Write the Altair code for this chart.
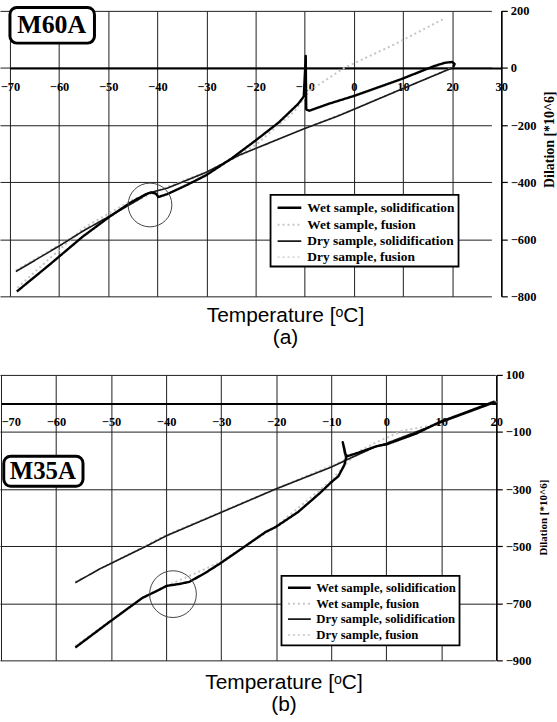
import altair as alt
import pandas as pd

SERIES = ["Wet sample, solidification", "Wet sample, fusion",
          "Dry sample, solidification", "Dry sample, fusion"]
SERIES_COLORS = ["#000000", "#c6c6c6", "#1a1a1a", "#c6c6c6"]
SERIES_WIDTHS = [2.4, 1.3, 1.0, 1.3]
SERIES_DASHES = [[1, 0], [2, 3], [1, 0], [2, 3]]

SERIF = "Liberation Serif"
SANS = "Liberation Sans"

# ---------------- (a) M60A ----------------
a_wet_sol_T = [-68.6, -62.0, -55.2, -49.8, -45.3, -42.3, -41.3, -40.3, -39.8, -38.0,
               -34.0, -30.1, -24.9, -20.0, -15.3, -11.3, -10.2, -9.8, -9.7, -9.1,
               -7.5, -5.2, 0.2, 9.5, 16.4, 18.5, 20.0, 20.5, 20.2]
a_wet_sol_D = [-783, -690, -591, -522, -470, -442, -436, -440, -452, -442,
               -410, -376, -317, -254, -191, -125, -100, 42, -145, -150,
               -140, -126, -97, -40, 7, 18, 21, 14, 3]

a_wet_fus_T = [-68.5, -55.0, -45.0, -40.0, -30.0, -20.0, -12.0, -9.0, -2.0, 8.3, 18.5]
a_wet_fus_D = [-770, -560, -462, -430, -370, -270, -150, -80, 0, 83, 174]

a_dry_sol_T = [-68.8, -60.0, -55.0, -50.0, -45.0, -41.7, -38.0, -30.0, -23.4, -17.4,
               -10.0, -3.2, 0.0, 10.0, 20.0]
a_dry_sol_D = [-713, -624, -570, -522, -473, -438, -421, -365, -306, -264,
               -212, -168, -145, -72, 0]

a_dry_fus_T = [-68.8, -50.0, -40.0, -30.0, -17.4, 0.0, 20.0]
a_dry_fus_D = [-708, -518, -430, -362, -262, -143, 2]

a_circle_T, a_circle_D = [-41.5], [-480]

# ---------------- (b) M35A ----------------
b_wet_sol_T = [-56.5, -50.2, -44.3, -41.5, -39.9, -37.5, -35.8, -33.0, -30.3, -26.0,
               -21.9, -20.1, -16.0, -12.0, -10.0, -8.7, -7.6, -7.3, -7.6, -7.9,
               -7.5, -7.1, -5.0, -1.8, 0.1, 5.5, 9.6, 14.5, 19.7]
b_wet_sol_D = [-855, -764, -681, -655, -639, -632, -625, -595, -562, -505,
               -450, -433, -380, -313, -276, -255, -215, -190, -160, -136,
               -175, -185, -172, -150, -143, -105, -66, -31, 7]

b_wet_fus_T = [-56.5, -45.0, -40.0, -30.0, -20.0, -10.0, -7.0, -5.0, -2.0, 3.0, 8.0, 14.0, 20.0]
b_wet_fus_D = [-850, -690, -640, -555, -430, -270, -205, -168, -138, -95, -78, -35, 7]

b_dry_sol_T = [-56.5, -52.0, -43.5, -40.0, -29.8, -20.1, -10.0, -6.9, -1.8, 0.0, 10.0, 20.0]
b_dry_sol_D = [-628, -579, -499, -464, -380, -300, -223, -195, -150, -140, -66, 5]

b_dry_fus_T = [-56.5, -40.0, -20.0, -6.9, 0.0, 20.0]
b_dry_fus_D = [-624, -460, -297, -192, -138, 6]

b_circle_T, b_circle_D = [-38.75], [-668]


def long_frame(parts):
    rows = []
    for name, ts, ds in parts:
        for i, (t, d) in enumerate(zip(ts, ds)):
            rows.append({"series": name, "T": t, "D": d, "idx": i})
    return pd.DataFrame(rows)


def panel(parts, circle, box, tag, x_dom, x_rng, x_vals, y_dom, y_vals, width,
          height, xlab_pad, label_align, y_title_size, y_title_y, legend_kw,
          title_lines, title_dx, title_offset):
    df = long_frame(parts)
    zero_px = height * y_dom[1] / (y_dom[1] - y_dom[0])

    xs = alt.Scale(domain=x_dom, range=x_rng, nice=False, zero=False)
    ys = alt.Scale(domain=y_dom, nice=False, zero=False)
    xa = alt.Axis(values=x_vals, grid=True, gridColor="#1e1e1e", gridWidth=1,
                  domain=True, domainColor="#000", domainWidth=2, ticks=False,
                  labelFont=SERIF, labelFontWeight="bold", labelFontSize=12.5,
                  labelColor="#000", labelPadding=xlab_pad, labelAlign=label_align,
                  offset=zero_px - height, title=None, format="d")
    ya = alt.Axis(orient="right", values=y_vals, grid=True, gridColor="#1e1e1e",
                  gridWidth=1, domain=True, domainColor="#000", domainWidth=1.5,
                  ticks=True, tickColor="#000", tickSize=6, tickWidth=1.2,
                  labelFont=SERIF, labelFontWeight="bold", labelFontSize=12.5,
                  labelColor="#000", labelPadding=3, format="d",
                  title="Dilation [*10^6]", titleFont=SERIF, titleFontWeight="bold",
                  titleFontSize=y_title_size, titleColor="#000", titleAngle=270,
                  titleBaseline="top", titlePadding=7, titleY=y_title_y)

    leg = alt.Legend(orient="none", title=None, fillColor="white",
                     strokeColor="#000", labelFont=SERIF, labelFontWeight="bold",
                     labelColor="#000", **legend_kw)

    lines = alt.Chart(df).mark_line(strokeCap="butt", strokeJoin="round").encode(
        x=alt.X("T:Q", scale=xs, axis=xa),
        y=alt.Y("D:Q", scale=ys, axis=ya),
        order="idx:Q",
        color=alt.Color("series:N", scale=alt.Scale(domain=SERIES, range=SERIES_COLORS), legend=leg),
        strokeWidth=alt.StrokeWidth("series:N", scale=alt.Scale(domain=SERIES, range=SERIES_WIDTHS), legend=leg),
        strokeDash=alt.StrokeDash("series:N", scale=alt.Scale(domain=SERIES, range=SERIES_DASHES), legend=leg),
    )

    ring = alt.Chart(pd.DataFrame({"T": circle[0], "D": circle[1]})).mark_point(
        shape="circle", filled=False, size=circle[2], stroke="#444", strokeWidth=1,
        opacity=1
    ).encode(x=alt.X("T:Q", scale=xs, axis=xa), y=alt.Y("D:Q", scale=ys, axis=ya))

    bx = pd.DataFrame({"T": [box[0]], "T2": [box[1]], "D": [box[2]], "D2": [box[3]]})
    frame = alt.Chart(bx).mark_rect(fill="white", stroke="#000", strokeWidth=3,
                                    cornerRadius=7).encode(
        x=alt.X("T:Q", scale=xs, axis=xa), x2="T2:Q",
        y=alt.Y("D:Q", scale=ys, axis=ya), y2="D2:Q")
    lbl = alt.Chart(pd.DataFrame({"T": [box[4]], "D": [box[5]], "tag": [tag]})).mark_text(
        font=SERIF, fontWeight="bold", fontSize=box[6], color="#000",
        baseline="middle", align="center"
    ).encode(x=alt.X("T:Q", scale=xs, axis=xa), y=alt.Y("D:Q", scale=ys, axis=ya),
             text="tag:N")

    return alt.layer(lines, ring, frame, lbl).properties(
        width=width, height=height,
        title=alt.TitleParams(title_lines, orient="bottom", anchor="middle",
                              frame="group", dx=title_dx, offset=title_offset,
                              font=SANS, fontSize=21, fontWeight="normal",
                              lineHeight=22, color="#000"),
    )


top = panel(
    parts=[(SERIES[1], a_wet_fus_T, a_wet_fus_D), (SERIES[3], a_dry_fus_T, a_dry_fus_D),
           (SERIES[2], a_dry_sol_T, a_dry_sol_D), (SERIES[0], a_wet_sol_T, a_wet_sol_D)],
    circle=(a_circle_T, a_circle_D, 1936),
    box=(-70, -52.8, 212, 87, -61.5, 150, 26), tag="M60A",
    x_dom=[-70, 30], x_rng=[10, 504], x_vals=list(range(-70, 31, 10)),
    y_dom=[-800, 200], y_vals=[200, 0, -200, -400, -600, -800],
    width=504, height=287, xlab_pad=13, label_align="center",
    y_title_size=14, y_title_y=129,
    legend_kw=dict(legendX=272, legendY=185, labelFontSize=13.5,
                   symbolType="M-1.4,0H1.4", symbolSize=290, symbolOffset=6,
                   padding=3, rowPadding=0, labelOffset=8),
    title_lines=["Temperature [ᵒC]", "(a)"], title_dx=35, title_offset=2,
)

bottom = panel(
    parts=[(SERIES[1], b_wet_fus_T, b_wet_fus_D), (SERIES[3], b_dry_fus_T, b_dry_fus_D),
           (SERIES[2], b_dry_sol_T, b_dry_sol_D), (SERIES[0], b_wet_sol_T, b_wet_sol_D)],
    circle=(b_circle_T, b_circle_D, 2209),
    box=(-69.5, -55.1, -185, -290, -62.4, -236, 25), tag="M35A",
    x_dom=[-70, 20], x_rng=[1, 499], x_vals=list(range(-70, 21, 10)),
    y_dom=[-900, 100], y_vals=[100, -100, -300, -500, -700, -900],
    width=499, height=287, xlab_pad=12,
    label_align={"condition": {"test": "datum.value === -70", "value": "left"}, "value": "center"},
    y_title_size=11, y_title_y=143,
    legend_kw=dict(legendX=283, legendY=202, labelFontSize=12.8,
                   symbolType="M-1.5,0H1.5", symbolSize=234, symbolOffset=6,
                   padding=3, rowPadding=0, labelOffset=8),
    title_lines=["Temperature [ᵒC]", "(b)"], title_dx=36, title_offset=5,
)

chart = alt.vconcat(top, bottom, spacing=79, bounds="flush").resolve_scale(
    x="independent", y="independent", color="independent",
    strokeWidth="independent", strokeDash="independent",
).properties(
    padding={"left": 0, "top": 3, "right": 0, "bottom": 0},
    background="white",
).configure_view(strokeWidth=0).configure_legend(strokeWidth=1.8).configure_axis(
    labelFont=SERIF, labelFontWeight="bold", titleFont=SERIF, titleFontWeight="bold"
)

chart.save("out.html", embed_options={"renderer": "svg", "actions": False})
